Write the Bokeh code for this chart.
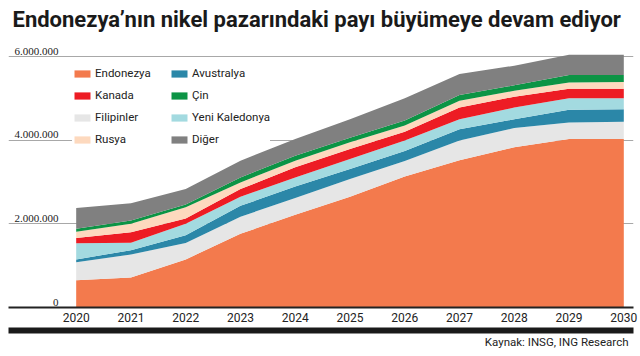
from bokeh.plotting import figure
from bokeh.models import (ColumnDataSource, Legend, LegendItem, LinearAxis,
                          FixedTicker, Title, Range1d, LabelSet)
from bokeh.embed import file_html
from bokeh.resources import INLINE

FONT = "Roboto"

years = [2020, 2021, 2022, 2023, 2024, 2025, 2026, 2027, 2028, 2029, 2030]
endonezya = [650000, 720000, 1150000, 1760000, 2220000, 2650000, 3130000, 3520000, 3830000, 4030000, 4030000]
filipinler = [430000, 545000, 390000, 410000, 400000, 420000, 370000, 470000, 460000, 390000, 410000]
avustralya = [70000, 105000, 185000, 260000, 270000, 240000, 240000, 270000, 210000, 310000, 300000]
yeni_kaledonya = [385000, 180000, 280000, 220000, 220000, 240000, 250000, 240000, 280000, 270000, 260000]
kanada = [125000, 250000, 120000, 180000, 240000, 240000, 210000, 280000, 260000, 230000, 230000]
rusya = [150000, 200000, 270000, 160000, 160000, 160000, 150000, 160000, 140000, 150000, 160000]
cin = [70000, 80000, 70000, 120000, 120000, 110000, 120000, 140000, 130000, 180000, 170000]
diger = [500000, 410000, 370000, 400000, 400000, 440000, 530000, 500000, 470000, 480000, 480000]

series_keys = ["endonezya", "filipinler", "avustralya", "yeni_kaledonya",
               "kanada", "rusya", "cin", "diger"]
series_names = ["Endonezya", "Filipinler", "Avustralya", "Yeni Kaledonya",
                "Kanada", "Rusya", "Çin", "Diğer"]
colors = ["#f37a4d", "#e6e6e6", "#2b87a8", "#a3dae0",
          "#ed1c24", "#fdd9be", "#0c9445", "#808080"]
legend_order = ["Endonezya", "Kanada", "Filipinler", "Rusya",
                "Avustralya", "Çin", "Yeni Kaledonya", "Diğer"]

y_ticks = [0, 2000000, 4000000, 6000000]
y_tick_labels = ["0", "2.000.000", "4.000.000", "6.000.000"]

title_text = "Endonezya’nın nikel pazarındaki payı büyümeye devam ediyor"
source_text = "Kaynak: INSG, ING Research"

src = ColumnDataSource(dict(year=years, endonezya=endonezya, filipinler=filipinler,
                            avustralya=avustralya, yeni_kaledonya=yeni_kaledonya,
                            kanada=kanada, rusya=rusya, cin=cin, diger=diger))

X0, X1 = 2018.764, 2030.177
p = figure(width=640, height=356, x_range=Range1d(X0, X1), y_range=Range1d(0, 6.526e6),
           output_backend="svg", toolbar_location=None,
           min_border_left=8, min_border_right=7, min_border_top=34, min_border_bottom=49)
p.outline_line_color = None
p.background_fill_color = "white"

p.title.text = title_text
p.title.text_font = FONT
p.title.text_font_size = "22px"
p.title.text_font_style = "bold"
p.title.text_color = "#1a1a1a"
p.title.offset = 4
p.title.standoff = 5

p.xgrid.grid_line_color = None
p.ygrid.ticker = FixedTicker(ticks=y_ticks[1:])
p.ygrid.grid_line_color = "#a8a8a8"
p.ygrid.grid_line_width = 1
p.yaxis.visible = False

p.xaxis.ticker = FixedTicker(ticks=years)
p.xaxis.axis_line_width = 2
p.xaxis.axis_line_color = "#222222"
p.xaxis.major_tick_line_color = None
p.xaxis.minor_tick_line_color = None
p.xaxis.major_tick_out = 0
p.xaxis.minor_tick_out = 0
p.xaxis.major_label_standoff = 5
p.xaxis.major_label_text_font = FONT
p.xaxis.major_label_text_font_size = "12px"
p.xaxis.major_label_text_color = "#222222"
p.xaxis.axis_label = " "
p.xaxis.axis_label_text_font_size = "3px"
p.xaxis.axis_label_standoff = 0

bar_axis = LinearAxis(ticker=FixedTicker(ticks=[]), axis_line_width=6,
                      axis_line_color="#1a1a1a", major_tick_line_color=None,
                      minor_tick_line_color=None, major_tick_out=0, minor_tick_out=0,
                      major_label_text_font_size="0px")
p.add_layout(bar_axis, "below")

p.add_layout(Title(text=source_text, align="right", text_font=FONT,
                   text_font_size="11.5px", text_font_style="normal",
                   text_color="#222222", standoff=5, offset=5), "below")

renderers = p.varea_stack(stackers=series_keys, x="year", color=colors, source=src)
rmap = dict(zip(series_names, renderers))

ysrc = ColumnDataSource(dict(x=[X0] * len(y_ticks), y=y_ticks, label=y_tick_labels))
p.add_layout(LabelSet(x="x", y="y", text="label", source=ysrc, x_offset=50, y_offset=2,
                      text_align="right", text_baseline="bottom", text_font=FONT,
                      text_font_size="11px", text_color="#222222"))

legend = Legend(items=[LegendItem(label=n, renderers=[rmap[n]]) for n in legend_order],
                ncols=2, location=(64, 161), background_fill_color="white",
                background_fill_alpha=1, border_line_color=None,
                glyph_width=20, glyph_height=9, label_height=9,
                label_text_font=FONT, label_text_font_size="11.5px",
                label_text_color="#222222", label_standoff=3, spacing=8,
                padding=4, margin=0, label_width=66)
p.add_layout(legend, "center")

open("out.html", "w").write(file_html(p, INLINE))
